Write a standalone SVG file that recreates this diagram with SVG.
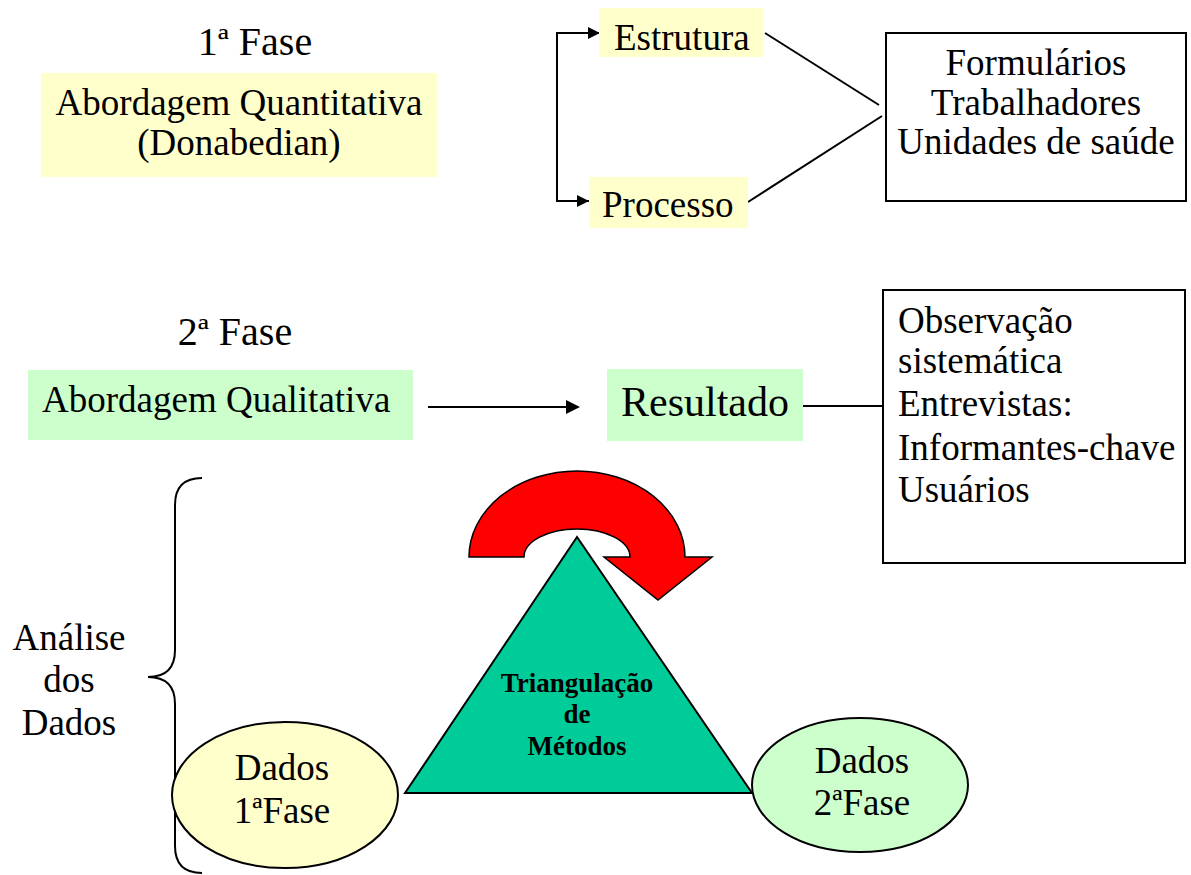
<svg xmlns="http://www.w3.org/2000/svg" width="1191" height="875" viewBox="0 0 1191 875">
<rect width="1191" height="875" fill="#fff"/>
<g id="connectors" fill="none" stroke="#000" stroke-width="2">
<path d="M599,33 L557,33 L557,201 L589,201"/>
<path d="M588,27 L600,33 L588,39 Z M577,195 L589,201 L577,207 Z" fill="#000" stroke="none"/>
<line x1="765" y1="33" x2="879" y2="105"/>
<line x1="748" y1="202" x2="882" y2="116"/>
<line x1="428" y1="407" x2="568" y2="407"/>
<path d="M566,400 L580,407 L566,414 Z" fill="#000" stroke="none"/>
<line x1="803" y1="406" x2="883" y2="406"/>
</g>

<g font-family="Liberation Serif, Times New Roman, serif" font-size="37" fill="#000">
<g id="fase1-title"><text x="255" y="55" text-anchor="middle" font-size="40">1&#170; Fase</text></g>

<g id="quantitativa">
<rect x="41" y="73" width="396" height="104" fill="#FFFFCC"/>
<text x="239" y="115" text-anchor="middle">Abordagem Quantitativa</text>
<text x="239" y="155" text-anchor="middle">(Donabedian)</text>
</g>

<g id="estrutura">
<rect x="599" y="8" width="164" height="49" fill="#FFFFCC"/>
<text x="614" y="50">Estrutura</text>
</g>

<g id="processo">
<rect x="589" y="177" width="159" height="51" fill="#FFFFCC"/>
<text x="602" y="217">Processo</text>
</g>

<g id="formularios">
<rect x="886" y="33" width="300" height="168" fill="#fff" stroke="#000" stroke-width="2"/>
<text x="1036" y="75" text-anchor="middle">Formul&#225;rios</text>
<text x="1036" y="115" text-anchor="middle">Trabalhadores</text>
<text x="1036" y="154" text-anchor="middle">Unidades de sa&#250;de</text>
</g>

<g id="fase2-title"><text x="235" y="345" text-anchor="middle" font-size="40">2&#170; Fase</text></g>

<g id="qualitativa">
<rect x="28" y="370" width="385" height="70" fill="#CCFFCC"/>
<text x="42" y="412">Abordagem Qualitativa</text>
</g>

<g id="resultado">
<rect x="607" y="369" width="196" height="72" fill="#CCFFCC"/>
<text x="621" y="416" font-size="42">Resultado</text>
</g>

<g id="observacao">
<rect x="883" y="290" width="302" height="273" fill="#fff" stroke="#000" stroke-width="2"/>
<text x="898" y="333">Observa&#231;&#227;o</text>
<text x="898" y="373">sistem&#225;tica</text>
<text x="898" y="416">Entrevistas:</text>
<text x="898" y="460">Informantes-chave</text>
<text x="898" y="502">Usu&#225;rios</text>
</g>

<g id="analise">
<path d="M202,478 Q175,478 175,505 L175,650 Q175,677 148,677 Q175,677 175,704 L175,846 Q175,873 202,873" fill="none" stroke="#000" stroke-width="2"/>
<text x="69" y="650" text-anchor="middle">An&#225;lise</text>
<text x="69" y="692" text-anchor="middle">dos</text>
<text x="69" y="735" text-anchor="middle">Dados</text>
</g>

<g id="dados1">
<ellipse cx="285" cy="795" rx="113" ry="73" fill="#FFFFCC" stroke="#000" stroke-width="2"/>
<text x="282" y="780" text-anchor="middle">Dados</text>
<text x="282" y="823" text-anchor="middle">1&#170;Fase</text>
</g>

<g id="dados2">
<ellipse cx="860" cy="785" rx="108" ry="67" fill="#CCFFCC" stroke="#000" stroke-width="2"/>
<text x="862" y="773" text-anchor="middle">Dados</text>
<text x="862" y="815" text-anchor="middle">2&#170;Fase</text>
</g>

<g id="ciclo">
<path d="M469,557 A108,86 0 0 1 685,557 L712,557 L658,600 L604,557 L630,557 A53,28 0 0 0 524,557 Z" fill="#FF0000" stroke="#000" stroke-width="1.5"/>
</g>

<g id="triangulacao">
<polygon points="577,537 405,793 752,793" fill="#00CC99" stroke="#000" stroke-width="2"/>
<text x="577" y="692" text-anchor="middle" font-size="27" font-weight="bold">Triangula&#231;&#227;o</text>
<text x="577" y="723" text-anchor="middle" font-size="27" font-weight="bold">de</text>
<text x="577" y="755" text-anchor="middle" font-size="27" font-weight="bold">M&#233;todos</text>
</g>
</g>
</svg>
